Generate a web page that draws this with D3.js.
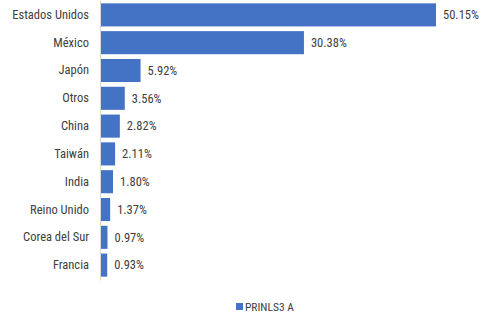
<!DOCTYPE html>
<html>
<head>
<meta charset="utf-8">
<script src="https://cdn.jsdelivr.net/npm/d3@7"></script>
<style>
  body { margin: 0; background: #fff; }
  text { font-family: "Liberation Sans Narrow", "Roboto Condensed", "DejaVu Sans Condensed", sans-serif; fill: #404040; }
</style>
</head>
<body>
<div id="chart"></div>
<script>
const width = 492;
const height = 316;
const margin = { left: 100, right: 56, top: 0, bottom: 36 };

const countries = ['Estados Unidos', 'México', 'Japón', 'Otros', 'China', 'Taiwán', 'India', 'Reino Unido', 'Corea del Sur', 'Francia'];
const shares = [50.15, 30.38, 5.92, 3.56, 2.82, 2.11, 1.80, 1.37, 0.97, 0.93];
const series_name = 'PRINLS3 A';

const data = countries.map((c, i) => ({ country: c, value: shares[i] }));

const inner_h = height - margin.top - margin.bottom;

const x_scale = d3.scaleLinear()
  .domain([0, 50.15])
  .range([0, 335]);
const y_scale = d3.scaleBand()
  .domain(countries)
  .range([0, inner_h])
  .paddingInner(0.17)
  .paddingOuter(0.12);

const svg = d3.select('#chart')
  .append('svg')
    .attr('width', width)
    .attr('height', height);
const g = svg.append('g')
    .attr('transform', 'translate(' + margin.left + ',' + margin.top + ')');

g.selectAll('.bar')
    .data(data)
  .join('rect')
    .attr('class', 'bar')
    .attr('x', 1)
    .attr('y', d => y_scale(d.country))
    .attr('width', d => x_scale(d.value))
    .attr('height', y_scale.bandwidth())
    .attr('fill', '#4472c4');

// axis, category labels only
const y_axis = g.append('g')
  .call(d3.axisLeft(y_scale).tickSize(0).tickPadding(11));
y_axis.select('.domain').attr('stroke', '#d9d9d9');
y_axis.selectAll('text')
  .style('font-size', '12.5px')
  .style('font-family', null);

g.selectAll('.value')
    .data(data)
  .join('text')
    .attr('class', 'value')
    .attr('x', d => x_scale(d.value) + 8)
    .attr('y', d => y_scale(d.country) + y_scale.bandwidth() / 2)
    .attr('dy', '0.35em')
    .style('font-size', '12.5px')
    .text(d => d.value.toFixed(2) + '%');

// legend
const legend = svg.append('g')
  .attr('transform', 'translate(236,303)');
legend.append('rect')
  .attr('width', 7)
  .attr('height', 7)
  .attr('fill', '#4472c4');
legend.append('text')
  .attr('x', 9)
  .attr('y', 3.5)
  .attr('dy', '0.35em')
  .style('font-size', '11.5px')
  .text(series_name);
</script>
</body>
</html>
